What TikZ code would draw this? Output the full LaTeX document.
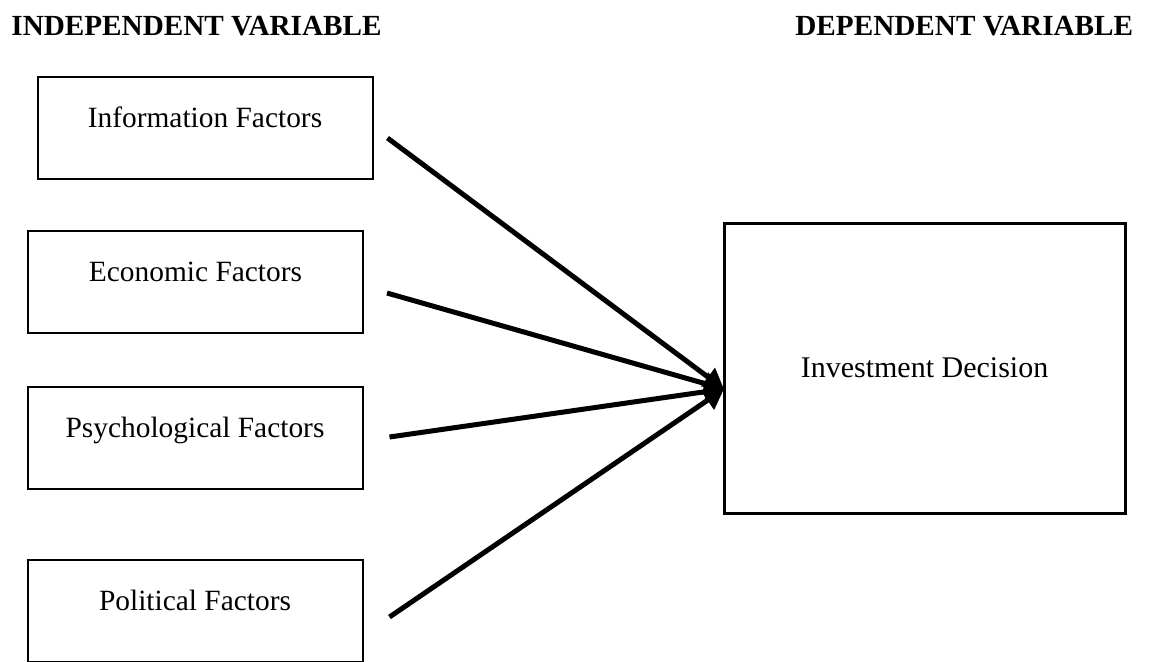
\documentclass[tikz,border=0pt]{standalone}
\usepackage{fontspec}
\setmainfont{Liberation Serif}
\usetikzlibrary{arrows, arrows.meta, positioning}

\begin{document}
\begin{tikzpicture} [x=0.5pt, y=-0.5pt, >={Triangle[length=10pt, width=11pt]},
	factor/.style = {draw, line width=1pt, inner sep=0pt, minimum width=167.5pt,
		text height=25pt, text depth=26pt, font=\fontsize{14.7}{17}\selectfont},
	heading/.style = {anchor=base west, inner sep=0pt, font=\fontsize{14.6}{17}\selectfont\bfseries}]
	%\draw [thin, help lines] (0,0) grid (1154,661);
	\useasboundingbox (0,0) rectangle (1154,661);
	\node[heading] (indep) at (11,35) {INDEPENDENT VARIABLE};
	\node[heading] (dep) at (795,35) {DEPENDENT VARIABLE};
	\node[factor] (info) at (205,128) {Information Factors};
	\node[factor] (econ) at (195.5,282) {Economic Factors};
	\node[factor] (psych) at (195,438) {Psychological Factors};
	\node[factor] (polit) at (195,611) {Political Factors};
	\node[draw, line width=1.5pt, minimum width=200.5pt, minimum height=145pt,
		font=\fontsize{15}{18}\selectfont] (invest) at (924.5,368) {Investment Decision};
	\coordinate (meet) at (724,389);
	\draw[->, line width=2.5pt] ([shift={(14,10)}]info.east) -- (meet);
	\draw[->, line width=2.5pt] ([shift={(23,11)}]econ.east) -- (meet);
	\draw[->, line width=2.5pt] ([shift={(26,-1)}]psych.east) -- (meet);
	\draw[->, line width=2.5pt] ([shift={(26,6)}]polit.east) -- (meet);
\end{tikzpicture}
\end{document}
